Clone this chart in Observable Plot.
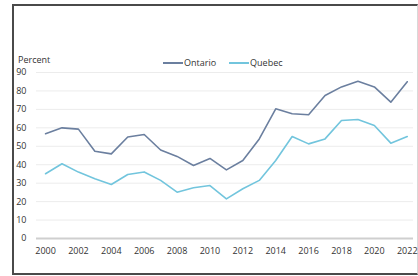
<!DOCTYPE html>
<html>
<head>
<meta charset="utf-8">
<script src="https://cdn.jsdelivr.net/npm/d3@7"></script>
<script src="https://cdn.jsdelivr.net/npm/@observablehq/plot@0.6"></script>
<style>
  html, body { margin: 0; padding: 0; background: #fff; }
  body { width: 418px; height: 276px; position: relative; overflow: hidden; font-family: "Open Sans", "Noto Sans", sans-serif; }
  #frame { position: absolute; left: 12px; top: 4px; width: 406px; height: 271px; border: 2px solid #4a4a4a; border-right: 1px solid #d8d8d8; box-sizing: border-box; }
  #chart { position: absolute; left: 0; top: 0; }
  #ylab { position: absolute; left: 18px; top: 53px; font-size: 9px; color: #333; }
  #legend { position: absolute; left: 163px; top: 56px; font-size: 9px; color: #333; display: flex; align-items: center; }
  #legend .sw { display: inline-block; width: 20px; height: 2px; margin-right: 1px; }
  #legend .item { display: flex; align-items: center; margin-right: 13px; }
</style>
</head>
<body>
<div id="frame"></div>
<div id="chart"></div>
<div id="ylab">Percent</div>
<div id="legend"></div>
<script>
const years = d3.range(2000, 2023);
const ontario = [56.8, 60.0, 59.3, 47.3, 45.9, 55.0, 56.4, 48.0, 44.5, 39.6, 43.4, 37.2, 42.3, 54.0, 70.3, 67.6, 67.1, 77.5, 82.2, 85.2, 82.2, 73.9, 85.0];
const quebec = [35.1, 40.5, 36.0, 32.4, 29.3, 34.7, 36.1, 31.5, 25.1, 27.5, 28.7, 21.5, 27.0, 31.5, 42.3, 55.3, 51.3, 54.0, 64.0, 64.5, 61.3, 51.7, 55.3];
const seriesNames = ["Ontario", "Quebec"];
const seriesColors = ["#6b7f9f", "#72c5dd"];
const yTicks = d3.range(0, 91, 10);
const xTicks = d3.range(2000, 2023, 2);

const data = [];
years.forEach((y, i) => {
  data.push({year: y, value: ontario[i], series: "Ontario"});
  data.push({year: y, value: quebec[i], series: "Quebec"});
});

const plot = Plot.plot({
  width: 418,
  height: 276,
  marginLeft: 36,
  marginRight: 5,
  marginTop: 72,
  marginBottom: 38,
  style: {fontFamily: "'Open Sans', 'Noto Sans', sans-serif", fontSize: "9px", color: "#333", background: "transparent"},
  x: {domain: [1999.45, 2022.38], ticks: xTicks, tickFormat: d => String(d), tickSize: 0, tickPadding: 9, label: null},
  y: {domain: [0, 90], ticks: yTicks, tickSize: 0, tickPadding: 10, label: null},
  color: {domain: seriesNames, range: seriesColors},
  marks: [
    Plot.ruleY(yTicks.filter(d => d > 0), {stroke: "#ececec", strokeWidth: 1}),
    Plot.ruleY([0], {stroke: "#cfcfcf", strokeWidth: 2}),
    Plot.line(data, {x: "year", y: "value", z: "series", stroke: "series", strokeWidth: 1.6}),
    Plot.axisX({ticks: xTicks, tickFormat: d => String(d), tickSize: 0, tickPadding: 9, fill: "#333"}),
    Plot.axisY({ticks: yTicks, tickSize: 0, tickPadding: 10, fill: "#333"})
  ]
});
document.getElementById("chart").appendChild(plot);

const legend = document.getElementById("legend");
seriesNames.forEach((n, i) => {
  const item = document.createElement("span");
  item.className = "item";
  const sw = document.createElement("span");
  sw.className = "sw";
  sw.style.background = seriesColors[i];
  item.appendChild(sw);
  item.appendChild(document.createTextNode(n));
  legend.appendChild(item);
});
</script>
</body>
</html>
